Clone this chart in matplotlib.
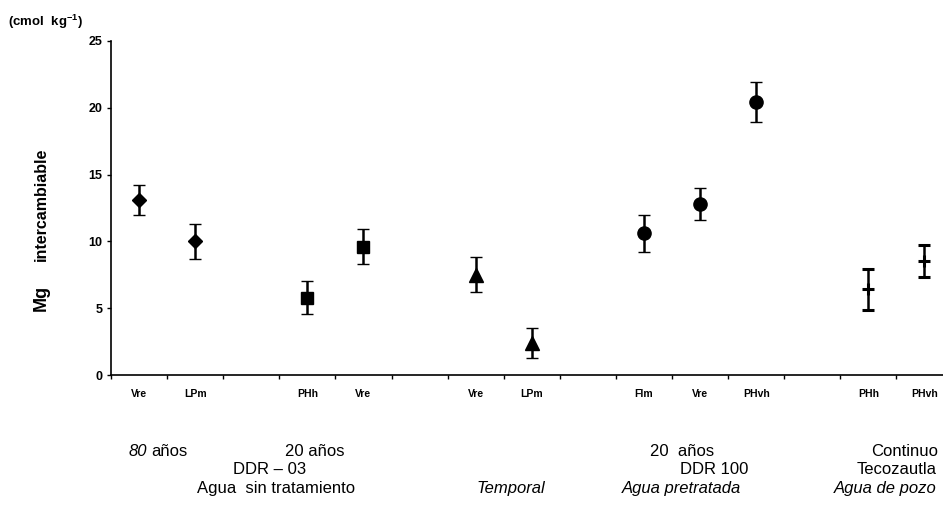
import numpy as np
import matplotlib
matplotlib.use('Agg')
import matplotlib.pyplot as plt
from matplotlib.ticker import FixedLocator

plt.rcParams['font.family'] = 'Liberation Sans'
plt.rcParams['mathtext.fontset'] = 'custom'
plt.rcParams['mathtext.rm'] = 'Liberation Sans'
plt.rcParams['mathtext.bf'] = 'Liberation Sans:bold'

# Suelos por sitio (los huecos separan los grupos de riego)
suelos = ['Vre', 'LPm', '', 'PHh', 'Vre', '', 'Vre', 'LPm', '', 'Flm', 'Vre', 'PHvh', '', 'PHh', 'PHvh']
# Mg intercambiable (cmol kg-1) y su desviación
mg = [13.1, 10.0, np.nan, 5.8, 9.6, np.nan, 7.5, 2.4, np.nan, 10.6, 12.8, 20.4, np.nan, 6.4, 8.5]
desv = [1.1, 1.3, np.nan, 1.2, 1.3, np.nan, 1.3, 1.1, np.nan, 1.4, 1.2, 1.5, np.nan, 1.5, 1.2]
marcas = ['D', 'D', '', 's', 's', '', '^', '^', '', 'o', 'o', 'o', '', '+', '+']
tamanos = {'D': 7.5, 's': 8.5, '^': 9.5, 'o': 9.5, '+': 8}

W, H = 943, 520
fig = plt.figure(figsize=(W / 100, H / 100), dpi=100)
ax = fig.add_axes([111 / W, 1 - 375 / H, (W - 111) / W, (375 - 41) / H])

x = np.arange(len(suelos))
for xi, yi, ei, m in zip(x, mg, desv, marcas):
    if not m:
        continue
    ax.errorbar(xi, yi, yerr=ei, fmt=m, color='black', ms=tamanos[m],
                mew=2.2 if m == '+' else 1, elinewidth=1.8, capsize=4.5,
                capthick=1.8)

ax.set_xlim(-0.5, -0.5 + (W - 111) / 56.1)
ax.set_ylim(0, 25)
ax.set_yticks([0, 5, 10, 15, 20, 25])
ax.tick_params(axis='y', length=3, width=1, pad=3, labelsize=9)
for t in ax.get_yticklabels():
    t.set_fontweight('bold')

ax.set_xticks(x)
ax.set_xticklabels(suelos, fontsize=7.5, fontweight='bold')
ax.tick_params(axis='x', which='major', length=0, pad=10)
ax.xaxis.set_minor_locator(FixedLocator(np.arange(-0.5, len(suelos), 1)))
ax.tick_params(axis='x', which='minor', length=3, width=1)

for s in ['top', 'right']:
    ax.spines[s].set_visible(False)
for s in ['left', 'bottom']:
    ax.spines[s].set_linewidth(1.2)

# Unidades y título del eje y
fig.text(8 / W, 1 - 22 / H, r'(cmol  kg$^{\mathbf{-1}}$)', fontsize=9.5,
         fontweight='bold', ha='left', va='center')
fig.text(41 / W, 1 - 298 / H, 'Mg', fontsize=13, fontweight='bold',
         rotation=90, ha='center', va='center')
fig.text(41 / W, 1 - 204 / H, 'intercambiable', fontsize=11.5,
         fontweight='bold', rotation=90, ha='center', va='center')


def rotulo(px, py, texto, ha='left', estilo='normal'):
    fig.text(px / W, 1 - py / H, texto, fontsize=12, ha=ha, va='center',
             style=estilo)


# Grupos de riego bajo el eje
rotulo(129, 452, '80', estilo='italic')
rotulo(151, 452, 'años')
rotulo(285, 452, '20 años')
rotulo(233, 470, 'DDR – 03')
rotulo(197, 488, 'Agua  sin tratamiento')
rotulo(477, 488, 'Temporal', estilo='italic')
rotulo(650, 452, '20  años')
rotulo(680, 470, 'DDR 100')
rotulo(622, 488, 'Agua pretratada', estilo='italic')
rotulo(938, 452, 'Continuo', ha='right')
rotulo(937, 470, 'Tecozautla', ha='right')
rotulo(937, 488, 'Agua de pozo', ha='right', estilo='italic')

fig.savefig('out.png', dpi=100, facecolor='white')
